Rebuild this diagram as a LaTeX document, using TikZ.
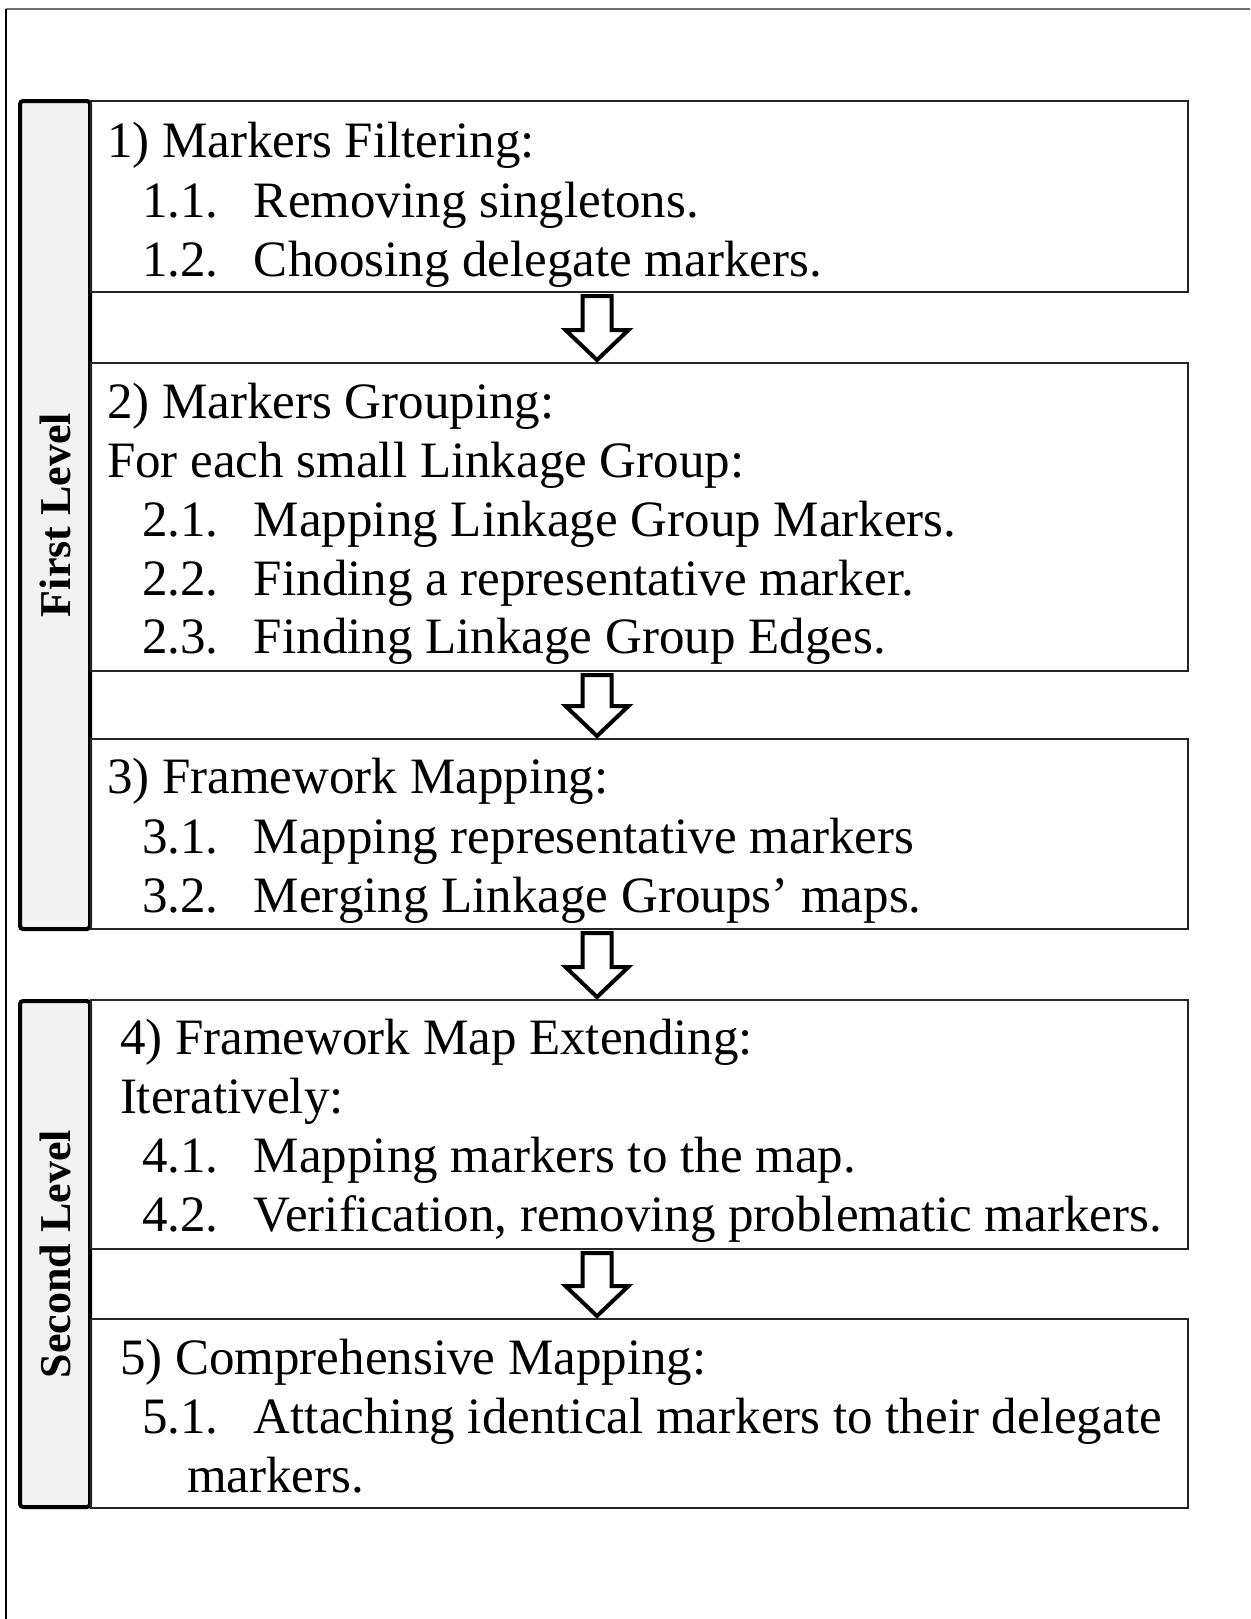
\documentclass[tikz,border=0pt]{standalone}
\usepackage{fontspec}
\setmainfont{Liberation Serif}
\usetikzlibrary{calc}
\definecolor{barfill}{HTML}{F2F2F2}
\definecolor{boxline}{HTML}{262626}
\definecolor{frametop}{HTML}{6E6E6E}
% item line: number in a fixed-width slot, then the text
\newcommand\itm[2]{\hbox to 56pt{#1\hfil}#2}
% hollow block arrow from the bottom of one box to the top of the next
\newcommand\hollowarrow[2]{%
  \draw[hollow] let \p1=($(ax |- #1.south)+(0,4)$), \p2=($(ax |- #2.north)+(0,-3)$) in
    (\x1-7.25pt,\y1) -- (\x1+7.25pt,\y1) -- (\x1+7.25pt,\y2+15pt) -- (\x1+15.75pt,\y2+15pt)
    -- (\x1,\y2) -- (\x1-15.75pt,\y2+15pt) -- (\x1-7.25pt,\y2+15pt) -- cycle;}
\begin{document}
\begin{tikzpicture}[x=0.5pt,y=-0.5pt,
  box/.style={draw=boxline,line width=1pt,minimum width=548.5pt,anchor=north west,inner sep=0,outer sep=0},
  levelbar/.style={draw=black,line width=2pt,fill=barfill,rounded corners=1.5pt,rotate=90,
    minimum height=35pt,inner sep=0,outer sep=0,font=\bfseries\fontsize{22pt}{26pt}\selectfont},
  txt/.style={anchor=base west,inner sep=0,outer sep=0,font=\fontsize{25.5pt}{30pt}\selectfont},
  hollow/.style={draw=black,line width=2pt,fill=white,line join=miter}]
\useasboundingbox (0,0) rectangle (1250,1619);

% page frame (top and left edges)
\draw[frametop,line width=1pt] (1250,9) -- (6,9);
\draw[black,line width=0.75pt] (6,9) -- (6,1619);

% level bars
\node[levelbar,minimum width=414pt] (lv1) at (55,515) {\raisebox{-1pt}{First Level}};
\node[levelbar,minimum width=253pt] (lv2) at (55,1254) {\raisebox{-1pt}{Second Level}};

% step boxes
\node[box,minimum height=95.5pt] (b1) at (91,101) {};
\node[box,minimum height=154pt]  (b2) at (91,363) {};
\node[box,minimum height=95pt]   (b3) at (91,739) {};
\node[box,minimum height=124.5pt](b4) at (91,1000) {};
\node[box,minimum height=94.5pt] (b5) at (91,1319) {};

% arrows between the steps
\coordinate (ax) at (597,0);
\hollowarrow{b1}{b2}
\hollowarrow{b2}{b3}
\hollowarrow{b3}{b4}
\hollowarrow{b4}{b5}

% step 1
\node[txt] (t1)  at (107,157) {1) Markers Filtering:};
\node[txt] (t11) at (142,217) {\itm{1.1.}{Removing singletons.}};
\node[txt] (t12) at (142,276) {\itm{1.2.}{Choosing delegate markers.}};
% step 2
\node[txt] (t2)  at (107,418) {2) Markers Grouping:};
\node[txt] (t2a) at (107,477) {For each small Linkage Group:};
\node[txt] (t21) at (142,536) {\itm{2.1.}{Mapping Linkage Group Markers.}};
\node[txt] (t22) at (142,595) {\itm{2.2.}{Finding a representative marker.}};
\node[txt] (t23) at (142,653) {\itm{2.3.}{Finding Linkage Group Edges.}};
% step 3
\node[txt] (t3)  at (107,793) {3) Framework Mapping:};
\node[txt] (t31) at (142,853) {\itm{3.1.}{Mapping representative markers}};
\node[txt] (t32) at (142,912) {\itm{3.2.}{Merging Linkage Groups’ maps.}};
% step 4
\node[txt] (t4)  at (120,1054) {4) Framework Map Extending:};
\node[txt] (t4a) at (120,1113) {Iteratively:};
\node[txt] (t41) at (142,1172) {\itm{4.1.}{Mapping markers to the map.}};
\node[txt] (t42) at (142,1231) {\itm{4.2.}{Verification, removing problematic markers.}};
% step 5
\node[txt] (t5)  at (120,1374) {5) Comprehensive Mapping:};
\node[txt] (t51) at (142,1433) {\itm{5.1.}{Attaching identical markers to their delegate}};
\node[txt] (t5b) at (187,1492) {markers.};
\end{tikzpicture}
\end{document}
